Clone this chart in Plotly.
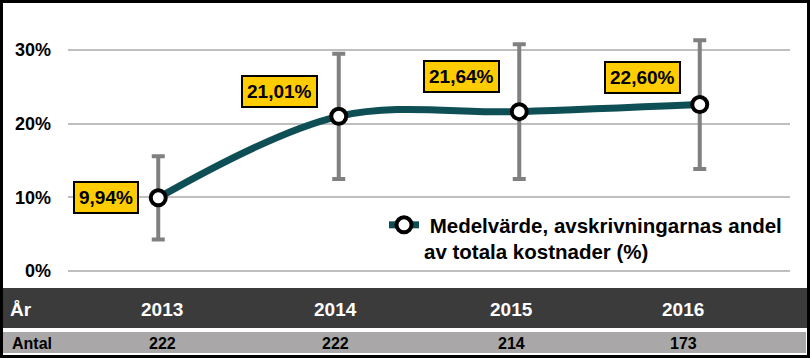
import plotly.graph_objects as go

years = ["2013", "2014", "2015", "2016"]
means = [9.94, 21.01, 21.64, 22.60]
errors = [5.65, 8.5, 9.15, 8.75]
counts = ["222", "222", "214", "173"]
labels = ["9,94%", "21,01%", "21,64%", "22,60%"]
tick_vals = [0, 10, 20, 30]
tick_text = ["0%", "10%", "20%", "30%"]
legend_name = "&nbsp;Medelvärde, avskrivningarnas andel<br>av totala kostnader (%)"

W, H = 810, 358
L, R, T, B = 68, 20, 28, 87
PW, PH = W - L - R, H - T - B
FONT = "Arial, Liberation Sans, sans-serif"

def px(p):
    return (p - L) / PW

def py(p):
    return (H - B - p) / PH

fig = go.Figure()
fig.add_trace(go.Scatter(
    x=years, y=means, mode="lines+markers", name=legend_name,
    line=dict(color="#0D4F55", width=7, shape="spline", smoothing=1),
    marker=dict(size=15, color="white", line=dict(color="black", width=4)),
    error_y=dict(type="data", array=errors, visible=True, color="#808080",
                 thickness=4, width=6.5),
    cliponaxis=False,
))

shifts = [(-52, 0), (-59, 24.5), (-57.5, 35), (-57.5, 27)]
ann = []
for i, (v, lab, (dx, dy)) in enumerate(zip(means, labels, shifts)):
    ann.append(dict(x=i, y=v, xref="x", yref="y", text=lab, showarrow=False,
                    xanchor="center", yanchor="middle",
                    xshift=dx, yshift=dy, bgcolor="#FFCC00", bordercolor="black",
                    borderwidth=2, borderpad=4,
                    font=dict(family=FONT, size=19, color="black", weight="bold")))

col_x = [162, 335, 511, 683]
for cx, yr, c in zip(col_x, years, counts):
    ann.append(dict(x=px(cx), y=py(309), xref="paper", yref="paper", text=yr,
                    xanchor="center", yanchor="middle",
                    showarrow=False, font=dict(family=FONT, size=19, color="white", weight="bold")))
    ann.append(dict(x=px(cx), y=py(343), xref="paper", yref="paper", text=c,
                    xanchor="center", yanchor="middle",
                    showarrow=False, font=dict(family=FONT, size=16, color="black", weight="bold")))
ann.append(dict(x=px(8), y=py(309), xref="paper", yref="paper", text="År",
                xanchor="left", yanchor="middle",
                showarrow=False, font=dict(family=FONT, size=19, color="white", weight="bold")))
ann.append(dict(x=px(10), y=py(343), xref="paper", yref="paper", text="Antal",
                xanchor="left", yanchor="middle",
                showarrow=False, font=dict(family=FONT, size=16, color="black", weight="bold")))

shapes = [
    dict(type="rect", xref="paper", yref="paper", x0=px(3), x1=px(807), y0=py(328), y1=py(288),
         fillcolor="#3B3B3B", line=dict(width=0)),
    dict(type="rect", xref="paper", yref="paper", x0=px(3), x1=px(806), y0=py(353), y1=py(332),
         fillcolor="#A9A7A7", line=dict(width=0)),
    dict(type="rect", xref="paper", yref="paper", x0=px(1.5), x1=px(808.5), y0=py(356.5), y1=py(1.5),
         fillcolor="rgba(0,0,0,0)", line=dict(color="black", width=3)),
]

fig.update_layout(
    width=W, height=H, margin=dict(l=L, r=R, t=T, b=B),
    paper_bgcolor="white", plot_bgcolor="white",
    showlegend=True,
    legend=dict(x=px(384), y=py(205), xanchor="left", yanchor="top", valign="top",
                bgcolor="rgba(0,0,0,0)",
                font=dict(family=FONT, size=20.5, color="black", weight="bold")),
    xaxis=dict(type="category", range=[-0.5, 3.5], showticklabels=False, showgrid=False,
               zeroline=False, showline=False, fixedrange=True),
    yaxis=dict(range=[0, 33], tickvals=tick_vals, ticktext=tick_text, showgrid=True,
               gridcolor="#BFBFBF", gridwidth=2, zeroline=True, zerolinecolor="#BFBFBF",
               zerolinewidth=2, showline=False, ticks="", ticklabelstandoff=16,
               tickfont=dict(family=FONT, size=18, color="black", weight="bold")),
    annotations=ann, shapes=shapes,
)

fig.write_html("out.html")
